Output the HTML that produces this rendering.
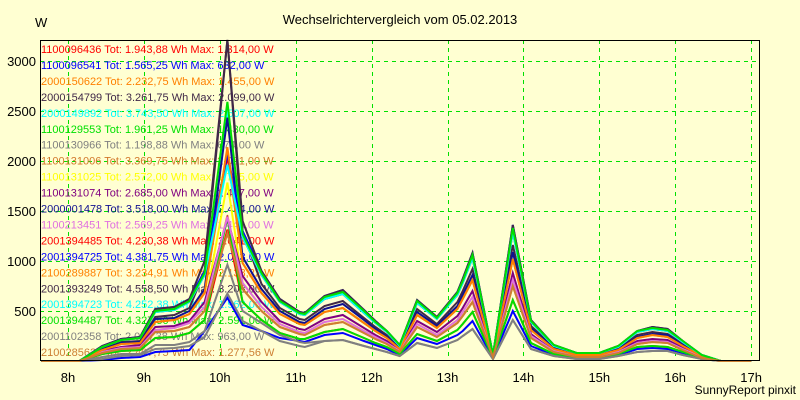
<!DOCTYPE html>
<html><head><meta charset="utf-8">
<style>
body{margin:0;background:#ffffd2;}
svg{display:block;font-family:"Liberation Sans",sans-serif;}
</style></head>
<body>
<svg id="chart" width="800" height="400" viewBox="0 0 800 400" xmlns="http://www.w3.org/2000/svg">
<rect x="0" y="0" width="800" height="400" fill="#ffffd2"/>
<text x="400" y="24" text-anchor="middle" font-size="13" fill="#000">Wechselrichtervergleich vom 05.02.2013</text>
<text x="35" y="27" font-size="13" fill="#000">W</text>
<text x="796" y="394" text-anchor="end" font-size="12" fill="#000">SunnyReport pinxit</text>
<g id="grid"></g><g id="axes"></g><g id="legend"></g><g id="lines"></g><g id="frame"></g>
</svg>
<script>
const xTicks = [8,9,10,11,12,13,14,15,16,17];
const xTickLabels = ["8h","9h","10h","11h","12h","13h","14h","15h","16h","17h"];
const yTicks = [500,1000,1500,2000,2500,3000];
const times = [7.65,8.15,8.45,8.7,8.95,9.15,9.4,9.6,9.8,10.1,10.3,10.55,10.79,11.05,11.12,11.38,11.62,11.9,12.05,12.2,12.37,12.6,12.86,13.13,13.2,13.33,13.6,13.86,14.1,14.4,14.7,15.0,15.25,15.5,15.7,15.9,16.1,16.35,16.6,17.0];
const seriesNames = ["1100096436 Tot: 1.943,88 Wh Max: 1.314,00 W","1100096541 Tot: 1.565,25 Wh Max: 632,00 W","2000150622 Tot: 2.232,75 Wh Max: 1.455,00 W","2000154799 Tot: 3.261,75 Wh Max: 2.099,00 W","2000149892 Tot: 3.743,50 Wh Max: 2.507,00 W","1100129553 Tot: 1.961,25 Wh Max: 1.430,00 W","1100130966 Tot: 1.198,88 Wh Max: 674,00 W","1100131006 Tot: 3.369,75 Wh Max: 2.061,00 W","1100131025 Tot: 2.572,00 Wh Max: 1.785,00 W","1100131074 Tot: 2.685,00 Wh Max: 1.427,00 W","2000001478 Tot: 3.518,00 Wh Max: 2.434,00 W","1100213451 Tot: 2.569,25 Wh Max: 1.443,00 W","2001394485 Tot: 4.230,38 Wh Max: 2.041,00 W","2001394725 Tot: 4.381,75 Wh Max: 2.073,00 W","2100289887 Tot: 3.234,91 Wh Max: 2.138,22 W","2001393249 Tot: 4.558,50 Wh Max: 3.208,00 W","2001394723 Tot: 4.252,38 Wh Max: 1.962,00 W","2001394487 Tot: 4.327,50 Wh Max: 2.591,00 W","2001102358 Tot: 2.004,38 Wh Max: 963,00 W","2100285620 Tot: 2.497,75 Wh Max: 1.277,56 W"];
const seriesColors = ["#ff0000","#0000ff","#ff8000","#402848","#00ffff","#00e000","#808080","#d2782a","#ffff00","#800080","#101090","#e070e0","#ff0000","#0000ff","#ff8000","#402848","#00ffff","#00e000","#808080","#cd7f32"];
const s01 = [0,0,70,100,110,230,240,280,410,1314,590,410,280,220,220,290,320,230,180,140,70,270,200,310,370,490,30,610,180,70,40,40,70,140,150,140,90,30,0,0];
const s02 = [0,0,10,30,40,90,100,110,300,632,360,300,230,200,190,260,280,200,160,120,60,230,170,260,300,400,30,500,150,60,30,30,60,120,130,120,80,20,0,0];
const s03 = [0,0,80,120,130,290,300,340,500,1455,720,500,340,270,260,360,390,280,220,170,90,340,240,380,450,590,40,750,230,90,40,40,80,170,190,180,110,30,0,0];
const s04 = [0,0,130,190,200,440,460,530,900,3300,1300,770,530,420,410,550,600,430,340,260,140,520,370,590,700,920,50,1160,350,140,70,70,130,260,290,270,170,50,0,0];
const s05 = [0,0,140,210,230,490,510,590,860,2500,1240,860,590,470,460,620,670,480,380,290,150,580,420,660,780,1030,60,1290,390,150,80,80,140,290,320,300,190,60,0,0];
const s06 = [0,0,70,100,110,230,240,280,410,1430,590,410,280,220,220,290,320,230,180,140,70,270,200,310,370,490,30,610,180,70,40,40,70,140,150,140,90,30,0,0];
const s07 = [0,0,20,50,60,120,130,150,240,674,400,300,200,150,140,200,210,150,120,90,50,180,130,210,250,320,20,410,120,50,20,20,50,90,100,100,60,20,0,0];
const s08 = [0,0,110,170,180,390,410,470,680,2061,980,680,470,370,360,490,530,380,300,230,120,460,330,520,620,810,50,1020,310,120,60,60,110,230,260,240,150,50,0,0];
const s09 = [0,0,90,130,140,310,330,380,540,1785,780,540,370,290,280,390,420,300,240,180,100,370,260,410,490,640,40,810,250,100,50,50,90,180,200,190,120,40,0,0];
const s10 = [0,0,100,140,160,340,350,400,590,1427,850,590,400,320,310,420,460,330,260,200,100,400,290,450,530,700,40,880,270,100,50,50,100,200,220,210,130,40,0,0];
const s11 = [0,0,120,180,190,420,430,500,720,2434,1040,720,500,390,380,520,570,410,320,240,130,490,350,550,660,860,50,1090,330,130,60,60,120,240,270,260,160,50,0,0];
const s12 = [0,0,90,130,140,310,330,380,540,1443,780,540,370,290,280,390,420,300,240,180,100,370,260,410,490,640,40,810,250,100,50,50,90,180,200,190,120,40,0,0];
const s13 = [0,0,140,210,230,490,510,590,860,2041,1240,860,590,470,460,620,670,480,380,290,150,580,420,660,780,1030,60,1290,390,150,80,80,140,290,320,300,190,60,0,0];
const s14 = [0,0,150,220,240,520,540,620,900,2073,1300,900,620,490,480,650,710,510,400,300,160,610,440,690,820,1080,60,1360,410,160,80,80,150,300,340,320,200,60,0,0];
const s15 = [0,0,110,170,180,390,410,470,680,2138,980,680,470,370,360,490,530,380,300,230,120,460,330,520,620,810,50,1020,310,120,60,60,110,230,260,240,150,50,0,0];
const s16 = [0,0,150,220,240,520,540,620,1000,3300,1400,900,620,490,480,650,710,510,400,300,160,610,440,690,820,1080,60,1360,410,160,80,80,150,300,340,320,200,60,0,0];
const s17 = [0,0,140,210,230,490,510,590,860,1962,1240,860,590,470,460,620,670,480,380,290,150,580,420,660,780,1030,60,1290,390,150,80,80,140,290,320,300,190,60,0,0];
const s18 = [0,0,140,210,230,500,520,600,880,2591,1270,880,600,480,470,640,690,500,390,300,160,600,430,680,800,1060,60,1330,400,160,80,80,150,300,330,310,200,60,0,0];
const s19 = [0,0,40,70,70,160,160,190,300,963,500,380,260,190,180,200,210,150,120,90,50,180,130,210,250,320,20,410,120,50,20,20,50,90,100,100,60,20,0,0];
const s20 = [0,0,80,120,130,290,300,340,500,1277,720,500,340,270,260,360,390,280,220,170,90,340,240,380,450,590,40,750,230,90,40,40,80,170,190,180,110,30,0,0];
const seriesValues = [s01,s02,s03,s04,s05,s06,s07,s08,s09,s10,s11,s12,s13,s14,s15,s16,s17,s18,s19,s20];

const NS = "http://www.w3.org/2000/svg";
const L = 40, R = 759, T = 40, B = 360;
function xs(h){ return 68 + (h - 8) * 75.9; }
function ys(v){ return 361 - v * 0.1; }
function mk(tag, attrs, parent){ const e = document.createElementNS(NS, tag); for (const k in attrs) e.setAttribute(k, attrs[k]); parent.appendChild(e); return e; }
const grid = document.getElementById('grid'), axes = document.getElementById('axes'), legend = document.getElementById('legend'), lines = document.getElementById('lines'), frame = document.getElementById('frame');

xTicks.forEach((h, i) => {
  const x = Math.round(xs(h)) + 0.5;
  const g = mk('line', {x1:x, x2:x, y1:T, y2:B, stroke:'#00e000', 'stroke-dasharray':'4,4', 'stroke-width':1}, grid);
  
  
  const t = mk('text', {x:xs(h), y:382, 'text-anchor':'middle', 'font-size':13, fill:'#000'}, axes);
  t.textContent = xTickLabels[i];
  
  
});
yTicks.forEach(v => {
  const y = Math.round(ys(v)) + 0.5;
  const g = mk('line', {x1:L, x2:R, y1:y, y2:y, stroke:'#00e000', 'stroke-dasharray':'4,4', 'stroke-width':1}, grid);
  
  
  const t = mk('text', {x:36, y:ys(v) + 5, 'text-anchor':'end', 'font-size':13, fill:'#000'}, axes);
  t.textContent = String(v);
  
  
});
seriesNames.forEach((n, i) => {
  const t = mk('text', {x:41, y:53 + i * 15.95, 'font-size':11, fill:seriesColors[i]}, legend);
  t.textContent = n;
  
  
});
seriesValues.forEach((vals, i) => {
  const pts = vals.map((v, j) => xs(times[j]).toFixed(1) + ',' + Math.max(ys(v), T).toFixed(1)).join(' ');
  const p = mk('polyline', {points:pts, fill:'none', stroke:seriesColors[i], 'stroke-width':2, 'stroke-linejoin':'miter'}, lines);
  
  
});
const fr = mk('path', {d:`M${L+0.5},${T+0.5} H${R+0.5} V${B+0.5} H${L+0.5} Z`, fill:'none', stroke:'#000', 'stroke-width':1}, frame);


</script>
</body></html>
